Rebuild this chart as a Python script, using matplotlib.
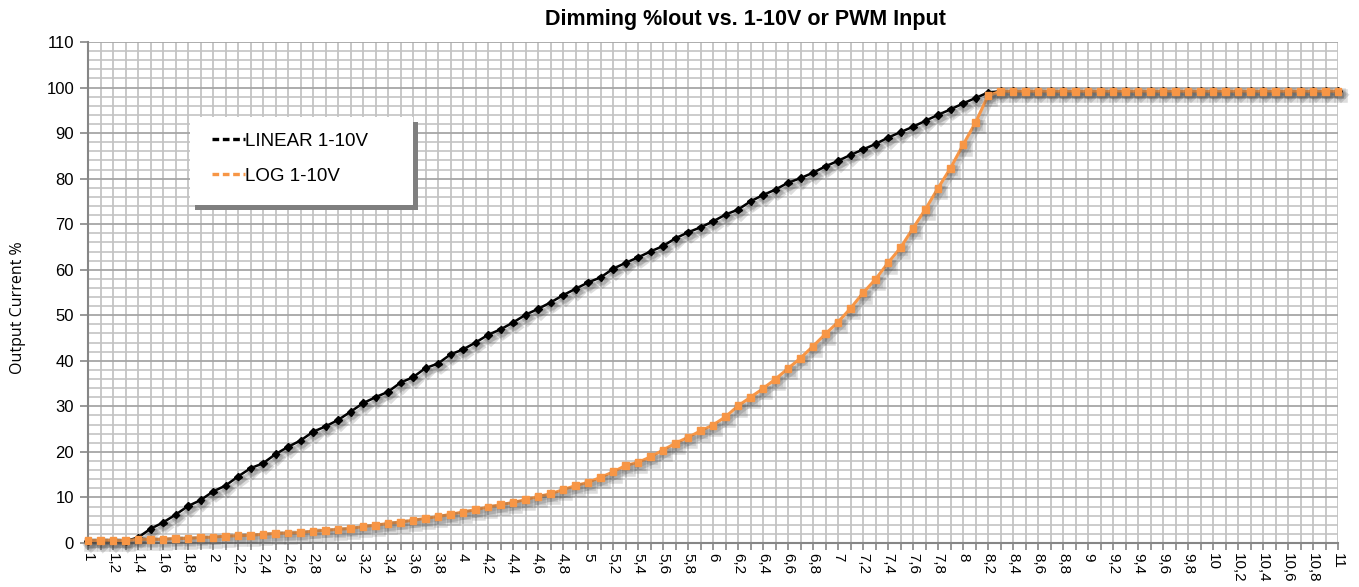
import numpy as np
import matplotlib
matplotlib.use("Agg")
import matplotlib.pyplot as plt
from matplotlib import patheffects as pe
from matplotlib.lines import Line2D
from matplotlib.patches import Rectangle

# ---------------- data ----------------
x_values = np.round(np.arange(1.0, 11.0001, 0.1), 1)

linear_1_10v = [
    0.4, 0.5, 0.5, 0.4, 1.2, 3.1, 4.5, 6.2, 8.1, 9.4,
    11.3, 12.6, 14.6, 16.4, 17.5, 19.5, 21.1, 22.5, 24.4, 25.6,
    27.0, 28.8, 30.7, 32.0, 33.2, 35.2, 36.4, 38.4, 39.4, 41.4,
    42.5, 44.0, 45.7, 46.9, 48.4, 50.1, 51.4, 52.8, 54.4, 55.8,
    57.2, 58.3, 60.2, 61.5, 62.7, 64.0, 65.2, 66.9, 68.2, 69.3,
    70.6, 72.1, 73.2, 75.0, 76.4, 77.6, 79.1, 80.1, 81.3, 82.7,
    83.9, 85.2, 86.4, 87.6, 89.0, 90.2, 91.4, 92.7, 94.0, 95.2,
    96.5, 97.7, 98.9, 99.2,
    99.2, 99.2, 99.2, 99.2, 99.2, 99.2, 99.2, 99.2, 99.2, 99.2,
    99.2, 99.2, 99.2, 99.2, 99.2, 99.2, 99.2, 99.2, 99.2, 99.2,
    99.2, 99.2, 99.2, 99.2, 99.2, 99.2, 99.2,
]

log_1_10v = [
    0.5, 0.6, 0.6, 0.5, 0.8, 0.8, 0.8, 1.0, 1.0, 1.2,
    1.3, 1.5, 1.6, 1.7, 1.9, 2.1, 2.2, 2.3, 2.6, 2.8,
    3.0, 3.2, 3.6, 3.9, 4.3, 4.6, 5.0, 5.4, 5.8, 6.3,
    6.8, 7.3, 7.9, 8.4, 8.9, 9.5, 10.2, 10.8, 11.7, 12.6,
    13.3, 14.4, 15.6, 17.0, 17.7, 18.9, 20.4, 21.9, 23.2, 24.6,
    25.9, 27.7, 30.1, 32.0, 33.9, 36.0, 38.3, 40.6, 43.2, 45.9,
    48.5, 51.5, 54.9, 57.9, 61.5, 64.8, 69.1, 73.3, 77.9, 82.3,
    87.4, 92.3, 98.2, 99.2,
    99.2, 99.2, 99.2, 99.2, 99.2, 99.2, 99.2, 99.2, 99.2, 99.2,
    99.2, 99.2, 99.2, 99.2, 99.2, 99.2, 99.2, 99.2, 99.2, 99.2,
    99.2, 99.2, 99.2, 99.2, 99.2, 99.2, 99.2,
]

series_labels = ["LINEAR 1-10V", "LOG 1-10V"]
title_text = "Dimming %Iout vs. 1-10V or PWM Input"
y_label = "Output Current %"
y_ticks = list(range(0, 111, 10))

# ---------------- style ----------------
plt.rcParams["font.family"] = ["Liberation Sans", "DejaVu Sans"]
BLACK = "#000000"
ORANGE = "#F79646"
GRID_MINOR = "#c4c4c4"
GRID_MAJOR = "#a6a6a6"
AXIS = "#868686"

fig = plt.figure(figsize=(13.59, 5.87), dpi=100)
ax = fig.add_axes([88 / 1359, 44 / 587, 1250 / 1359, 501 / 587])

ax.set_xlim(1.0, 11.0)
ax.set_ylim(0, 110)

# grid
ax.set_xticks(x_values, minor=False)
ax.set_yticks(y_ticks)
ax.set_yticks(np.arange(0, 111, 2), minor=True)
for xv in x_values:
    ax.axvline(xv, color=GRID_MINOR, lw=1.3, zorder=0)
for yv in np.arange(0, 111, 2):
    ax.axhline(yv, color=GRID_MAJOR if yv % 10 == 0 else GRID_MINOR,
               lw=1.3 if yv % 10 == 0 else 1.2, zorder=0)

def shadow(lw):
    return [pe.SimpleLineShadow(offset=(2.0, -3.0), shadow_color="#444444",
                                alpha=0.18, linewidth=lw + 2.5),
            pe.SimpleLineShadow(offset=(1.5, -2.0), shadow_color="#444444",
                                alpha=0.15, linewidth=lw + 0.5),
            pe.Normal()]

ax.plot(x_values, linear_1_10v, color=BLACK, lw=1.8, marker="D", ms=3.8,
        zorder=3, clip_on=False, path_effects=shadow(1.8))
ax.plot(x_values, log_1_10v, color=ORANGE, lw=2.2, marker="s", ms=5.0,
        zorder=4, clip_on=False, path_effects=shadow(2.2))

# x tick labels every 0.2 with comma decimal
labels = []
for i, xv in enumerate(x_values):
    if i % 2 == 0:
        labels.append(f"{xv:g}".replace(".", ","))
    else:
        labels.append("")
ax.set_xticklabels(labels, rotation=-90, fontsize=11, va="top", ha="center",
                   color="#000000")
ax.tick_params(axis="x", which="major", length=5, width=1.2, color=AXIS, pad=2)
ax.tick_params(axis="y", which="major", length=6, width=1.2, color=AXIS,
               labelsize=12, pad=4)
ax.tick_params(axis="y", which="minor", length=0)

for s in ["top", "right"]:
    ax.spines[s].set_visible(False)
for s in ["left", "bottom"]:
    ax.spines[s].set_color(AXIS)
    ax.spines[s].set_linewidth(1.5)
    ax.spines[s].set_zorder(2)

ax.set_ylabel(y_label, fontsize=11.5, family=["Open Sans", "DejaVu Sans"])
ax.yaxis.set_label_coords(-0.050, 0.47)

# title
fig.text(0.5485, 0.966, title_text, ha="center", va="center",
         fontsize=15.5, fontweight="bold")

# legend box with shadow (axes coords)
lx0, ly0, lw_, lh_ = 0.0816, 0.675, 0.178, 0.175
ax.add_patch(Rectangle((lx0 + 0.004, ly0 - 0.010), lw_, lh_, transform=ax.transAxes,
                       facecolor="#7f7f7f", edgecolor="none", zorder=6, clip_on=False))
ax.add_patch(Rectangle((lx0, ly0), lw_, lh_, transform=ax.transAxes,
                       facecolor="white", edgecolor="none", zorder=7, clip_on=False))
handles = [Line2D([], [], color=BLACK, lw=2.4, ls=(0, (2.0, 1.1))),
           Line2D([], [], color=ORANGE, lw=2.4, ls=(0, (2.0, 1.1)))]
leg = ax.legend(handles, series_labels, loc="center left",
                bbox_to_anchor=(lx0 + 0.004, ly0 + lh_ / 2 + 0.005),
                frameon=False, fontsize=13.5, handlelength=1.75, handletextpad=0.0,
                labelspacing=0.95)
leg.set_zorder(8)

fig.savefig("out.png", dpi=100, facecolor="white")
